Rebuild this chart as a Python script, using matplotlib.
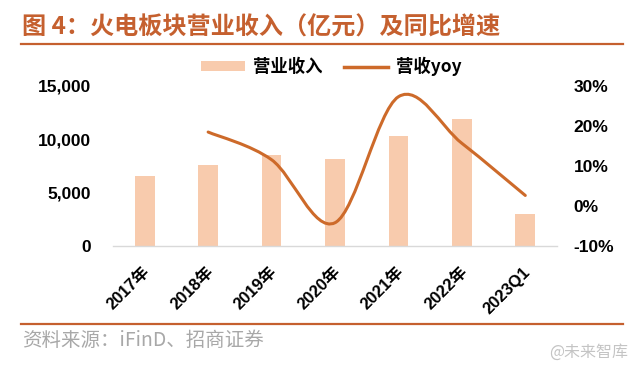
import numpy as np
import matplotlib.pyplot as plt
import matplotlib.transforms as mtransforms
from matplotlib.path import Path
from matplotlib.patches import PathPatch
from matplotlib.lines import Line2D
from matplotlib.ticker import FuncFormatter

# data
categories = ["2017年", "2018年", "2019年", "2020年", "2021年", "2022年", "2023Q1"]
revenue = [6500, 7600, 8500, 8100, 10300, 11900, 3000]      # 营业收入 (亿元)
yoy_x = [1, 2, 3, 4, 5, 6]                                  # 2018年 .. 2023Q1
yoy = [18.4, 11.5, -4.2, 27.2, 15.6, 2.6]                   # 营收yoy (%)

BAR_C = "#F8CBAD"
LINE_C = "#CD6A2A"
TITLE_C = "#C5602F"

plt.rcParams["font.family"] = ["Liberation Sans", "Noto Sans CJK SC", "DejaVu Sans"]
plt.rcParams["font.weight"] = "bold"

fig = plt.figure(figsize=(6.4, 3.77), dpi=100)
ax = fig.add_axes([113 / 640, 1 - 246 / 377, 444 / 640, 160.5 / 377])
ax2 = ax.twinx()

x = np.arange(len(categories))
bars = ax.bar(x, revenue, width=0.31, color=BAR_C, zorder=2)
ax.set_xlim(-0.5, len(categories) - 0.5)
ax.set_ylim(0, 15000)
ax.set_yticks([0, 5000, 10000, 15000])
ax.yaxis.set_major_formatter(FuncFormatter(lambda v, p: f"{int(v):,}"))
ax2.set_ylim(-10, 30)
ax2.set_yticks([-10, 0, 10, 20, 30])
ax2.yaxis.set_major_formatter(FuncFormatter(lambda v, p: f"{int(v)}%"))

# smoothed line (Excel style bezier through the points)
pts = np.column_stack([yoy_x, yoy]).astype(float)
n = len(pts)
verts = [pts[0]]
codes = [Path.MOVETO]
for i in range(n - 1):
    p0 = pts[max(i - 1, 0)]
    p1 = pts[i]
    p2 = pts[i + 1]
    p3 = pts[min(i + 2, n - 1)]
    c1 = p1 + (p2 - p0) / 6.0
    c2 = p2 - (p3 - p1) / 6.0
    verts += [c1, c2, p2]
    codes += [Path.CURVE4] * 3
patch = PathPatch(Path(verts, codes), fill=False, edgecolor=LINE_C, lw=2.2,
                  capstyle="round", transform=ax2.transData, zorder=3)
ax2.add_patch(patch)

for a in (ax, ax2):
    for s in a.spines.values():
        s.set_visible(False)
ax.spines["bottom"].set_visible(True)
ax.spines["bottom"].set_color("#D9D9D9")
ax.spines["bottom"].set_linewidth(1.0)

ax.tick_params(axis="y", length=0, pad=16, labelsize=12.5)
ax2.tick_params(axis="y", length=0, pad=12, labelsize=12.5)
ax.tick_params(axis="x", length=0, pad=17, labelsize=12)
ax.set_xticks(x)
ax.set_xticklabels(categories, rotation=45, ha="right", va="center",
                   rotation_mode="anchor")
offset = mtransforms.ScaledTranslation(3 / 100, 0, fig.dpi_scale_trans)
for lab in ax.get_xticklabels():
    lab.set_transform(lab.get_transform() + offset)

handles = [bars, Line2D([], [], color=LINE_C, lw=2.5)]
ax.legend(handles, ["营业收入", "营收yoy"], loc="center", bbox_to_anchor=(0.491, 1.117),
          ncol=2, frameon=False, handlelength=2.55, handleheight=0.5,
          handletextpad=0.45, columnspacing=1.25,
          prop={"family": ["Noto Sans CJK SC", "Liberation Sans"], "weight": "bold", "size": 12.5})

# title, rules and source
fig.text(22 / 640, 1 - 28 / 377, "图 4：火电板块营业收入（亿元）及同比增速", color=TITLE_C,
         fontsize=17.4, fontweight="bold", family=["Noto Sans CJK SC", "DejaVu Sans"],
         ha="left", va="center")
fig.add_artist(Line2D([21 / 640, 623 / 640], [1 - 44 / 377] * 2, color=TITLE_C, lw=1.6))
fig.add_artist(Line2D([21 / 640, 623 / 640], [1 - 324 / 377] * 2, color=TITLE_C, lw=1.6))
fig.text(22 / 640, 1 - 341 / 377, "资料来源：iFinD、招商证券", color="#A8A8A8",
         fontsize=14, fontweight="normal", family=["Noto Sans CJK SC", "DejaVu Sans"],
         ha="left", va="center")
fig.text(628 / 640, 1 - 352 / 377, "@未来智库", color="#C4C4C4",
         fontsize=11.5, fontweight="normal", family=["Noto Sans CJK SC", "DejaVu Sans"],
         ha="right", va="center")

fig.savefig("out.png", dpi=100)
